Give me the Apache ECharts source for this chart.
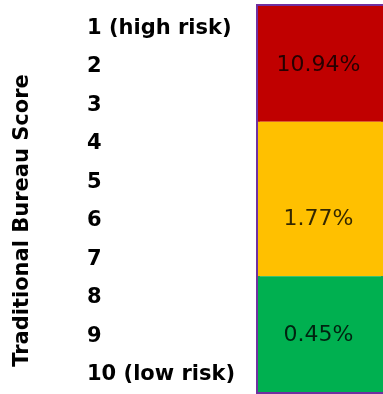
<!DOCTYPE html>
<html>
<head>
<meta charset="utf-8">
<script src="https://cdn.jsdelivr.net/npm/echarts@6/dist/echarts.min.js"></script>
<style>
html,body{margin:0;padding:0;background:#fff;}
#chart{width:383px;height:394px;}
</style>
</head>
<body>
<div id="chart"></div>
<script>
// Score labels (top = highest risk)
var scoreLabels = ['1 (high risk)', '2', '3', '4', '5', '6', '7', '8', '9', '10 (low risk)'];
// Risk bands: how many score levels each band covers, and its rate
var bandNames = ['High risk band', 'Medium risk band', 'Low risk band'];
var bandSpans = [3, 4, 3];
var bandRates = [10.94, 1.77, 0.45];
// score row beside which each band's rate is printed
var bandLabelScores = [2, 6, 9];
var axisTitle = 'Traditional Bureau Score';

var bandColors = ['#C00000', '#FFC000', '#00B050'];

var chart = echarts.init(document.getElementById('chart'), null, {renderer: 'canvas'});

var series = bandNames.map(function (name, i) {
  return {
    name: name,
    type: 'bar',
    stack: 'bands',
    xAxisIndex: 0,
    yAxisIndex: 0,
    barWidth: '100%',
    data: [bandSpans[i]],
    itemStyle: {color: bandColors[i]},
    label: {show: false},
    emphasis: {disabled: true}
  };
});

series.push({
  name: 'rates',
  type: 'scatter',
  xAxisIndex: 0,
  yAxisIndex: 0,
  symbolSize: 0,
  data: bandRates.map(function (r, i) {
    return {value: ['', bandLabelScores[i] - 0.5], rate: r};
  }),
  label: {
    show: true,
    position: 'inside',
    offset: [-2, 1],
    formatter: function (p) { return p.data.rate.toFixed(2) + '%'; },
    color: '#000',
    fontFamily: 'DejaVu Sans',
    fontSize: 22
  },
  emphasis: {disabled: true},
  z: 5
});

chart.setOption({
  animation: false,
  grid: [
    {
      left: 258, top: 6, width: 130, height: 386,
      show: true, borderColor: '#7030A0', borderWidth: 4,
      backgroundColor: 'transparent'
    },
    {
      left: 258, top: 9, width: 130, height: 386,
      show: false
    }
  ],
  xAxis: [
    {type: 'category', data: [''], show: false, gridIndex: 0},
    {type: 'category', data: [''], show: false, gridIndex: 1}
  ],
  yAxis: [
    {
      type: 'value',
      gridIndex: 0,
      min: 0,
      max: 10,
      inverse: true,
      show: false
    },
    {
      type: 'category',
      gridIndex: 1,
      data: scoreLabels,
      inverse: true,
      position: 'left',
      name: axisTitle,
      nameLocation: 'middle',
      nameGap: 225,
      nameRotate: 90,
      nameTextStyle: {
        fontFamily: 'DejaVu Sans', fontWeight: 'bold', fontSize: 21, color: '#000',
        padding: [0, 38, 0, 0]
      },
      axisLine: {show: false},
      axisTick: {show: false},
      splitLine: {show: false},
      axisLabel: {
        align: 'left',
        margin: 171,
        fontFamily: 'DejaVu Sans',
        fontWeight: 'bold',
        fontSize: 21,
        color: '#000'
      }
    }
  ],
  series: series
});
</script>
</body>
</html>
